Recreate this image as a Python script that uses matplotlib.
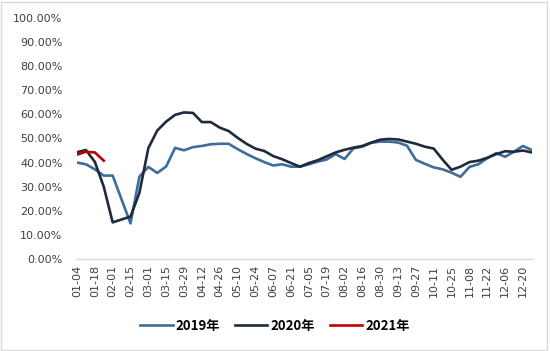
import pandas as pd
import matplotlib.pyplot as plt
import matplotlib.patches as patches
from matplotlib.ticker import PercentFormatter

### DATA

# weekly categories (01-04 ... 12-27), a label every second week
weeks = list(pd.date_range('2019-01-04', periods=52, freq='7D').strftime('%m-%d'))

rate_2019 = [40.0, 39.3, 37.2, 34.6, 34.6, 24.7, 14.8, 34.2, 38.2, 35.7,
             38.4, 46.1, 45.1, 46.4, 46.9, 47.6, 47.8, 47.8, 45.6, 43.6,
             41.8, 40.2, 38.8, 39.3, 38.3, 38.3, 39.3, 40.4, 41.3, 43.5,
             41.5, 45.9, 46.6, 48.2, 48.7, 48.7, 48.3, 47.0, 41.1, 39.5,
             38.0, 37.2, 35.8, 34.1, 38.2, 39.3, 41.8, 43.9, 42.4, 44.5,
             46.9, 45.2]

rate_2020 = [44.3, 45.2, 40.3, 30.0, 15.2, 16.4, 17.6, 27.5, 46.0, 53.3,
             57.0, 59.8, 60.8, 60.6, 56.8, 56.8, 54.5, 53.1, 50.3, 47.8,
             45.8, 44.8, 42.7, 41.4, 39.8, 38.3, 39.8, 41.0, 42.6, 44.2,
             45.3, 46.2, 46.9, 48.3, 49.5, 49.8, 49.6, 48.7, 47.8, 46.6,
             45.8, 41.2, 37.0, 38.3, 40.2, 40.8, 42.0, 43.5, 44.7, 44.5,
             45.0, 44.2]

rate_2021 = [43.3, 44.5, 44.2, 40.8]

series = [('2019年', rate_2019, '#3f6c9c'),
          ('2020年', rate_2020, '#1e2b3c'),
          ('2021年', rate_2021, '#c00000')]

### PLOT

plt.rcParams['font.family'] = ['DejaVu Sans', 'Noto Sans CJK SC']

fig = plt.figure(figsize=(5.5, 3.51), dpi=100)
ax = fig.add_axes([0.14, 0.262, 0.827, 0.687])

x = list(range(len(weeks)))
for name, vals, col in series:
    ax.plot(x[:len(vals)], [v / 100 for v in vals], color=col, lw=1.9,
            label=name, solid_joinstyle='round')

ax.set_xlim(0, len(weeks) - 1)
ax.set_ylim(0, 1)
ax.set_yticks([i / 10 for i in range(11)])
ax.yaxis.set_major_formatter(PercentFormatter(1.0, decimals=2))
ax.set_xticks(x[::2])
ax.set_xticklabels(weeks[::2], rotation=90)

ax.tick_params(axis='y', length=0, pad=10.5, labelsize=8, labelcolor='#404040')
ax.tick_params(axis='x', length=0, pad=4, labelsize=8, labelcolor='#404040')

for s in ['top', 'right', 'left']:
    ax.spines[s].set_visible(False)
ax.spines['bottom'].set_color('#d9d9d9')
ax.spines['bottom'].set_linewidth(1.0)

fig.legend(loc='center', bbox_to_anchor=(0.5, 0.072), ncol=3, frameon=False,
           handlelength=2.45, columnspacing=1.1, handletextpad=0.25,
           prop={'family': ['Noto Sans CJK SC', 'DejaVu Sans'],
                 'weight': 'bold', 'size': 9.5})

# chart area border
fig.patches.append(patches.Rectangle((0.002, 0.004), 0.993, 0.991,
                                     transform=fig.transFigure, fill=False,
                                     edgecolor='#d9d9d9', lw=1.0))

fig.savefig('out.png', dpi=100)
